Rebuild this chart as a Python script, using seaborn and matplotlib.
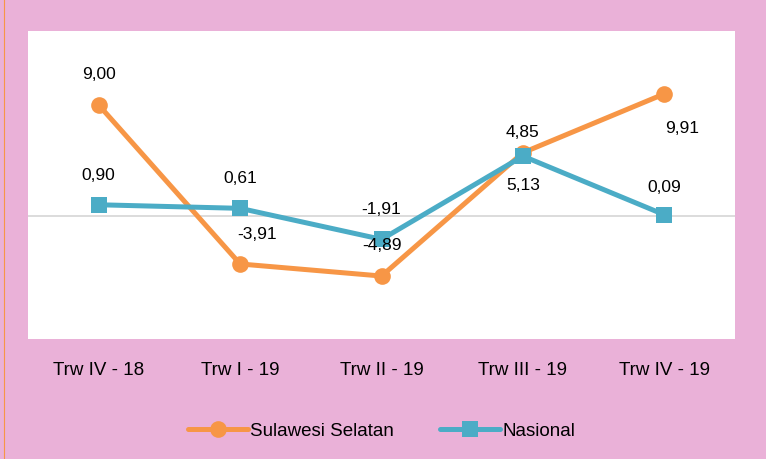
import numpy as np
import pandas as pd
import matplotlib
matplotlib.use("Agg")
import matplotlib.pyplot as plt
import seaborn as sns
from matplotlib.lines import Line2D

# data
quarters = ["Trw IV - 18", "Trw I - 19", "Trw II - 19", "Trw III - 19", "Trw IV - 19"]
sulsel = [9.00, -3.91, -4.89, 5.13, 9.91]
nasional = [0.90, 0.61, -1.91, 4.85, 0.09]
series_names = ["Sulawesi Selatan", "Nasional"]

PINK = "#EAB1D8"
ORANGE = "#F79646"
BLUE = "#4BACC6"

sns.set_theme(style="white")
plt.rcParams["font.family"] = ["Liberation Sans Narrow", "Liberation Sans", "DejaVu Sans"]
plt.rcParams["text.color"] = "black"
plt.rcParams["xtick.color"] = "black"

df = pd.DataFrame({
    "x": list(range(len(quarters))) * 2,
    "value": sulsel + nasional,
    "series": [series_names[0]] * len(quarters) + [series_names[1]] * len(quarters),
})

fig = plt.figure(figsize=(7.66, 4.60), dpi=100, facecolor=PINK)
ax = fig.add_axes([0.0366, 0.261, 0.923, 0.669])
ax.set_facecolor("white")

# thin orange border on the left edge
fig.add_artist(Line2D([4 / 766, 4 / 766], [0, 1], transform=fig.transFigure,
                      color=ORANGE, lw=0.8))

ax.axhline(0, color="#D9D9D9", lw=1.3, zorder=1)

sns.lineplot(data=df, x="x", y="value", hue="series", style="series",
             palette=[ORANGE, BLUE], markers=["o", "s"], dashes=False,
             linewidth=3.6, markersize=12, markeredgewidth=0, ax=ax, zorder=3)

# data labels, offsets in points
sulsel_off = [(0, 23), (12, 22), (0, 23), (0, -23), (13, -24)]
nas_off = [(0, 22), (0, 22), (0, 22), (0, 18), (0, 20)]
for i, v in enumerate(sulsel):
    ax.annotate(f"{v:.2f}".replace(".", ","), (i, v), xytext=sulsel_off[i],
                textcoords="offset points", ha="center", va="center", fontsize=12.5)
for i, v in enumerate(nasional):
    ax.annotate(f"{v:.2f}".replace(".", ","), (i, v), xytext=nas_off[i],
                textcoords="offset points", ha="center", va="center", fontsize=12.5)

ax.set_xlim(-0.5, len(quarters) - 0.5)
ax.set_ylim(-10, 15)
ax.set_xticks(range(len(quarters)))
ax.set_xticklabels(quarters, fontsize=13.5)
ax.tick_params(axis="x", length=0, pad=16)
ax.set_yticks([])
ax.set_xlabel("")
ax.set_ylabel("")
for s in ax.spines.values():
    s.set_visible(False)

leg = ax.legend(loc="upper center", bbox_to_anchor=(0.5, -0.215), ncol=2, frameon=False,
                fontsize=13.5, handlelength=3.2, handletextpad=0.1, columnspacing=2.5)

fig.savefig("out.png", dpi=100, facecolor=PINK)
